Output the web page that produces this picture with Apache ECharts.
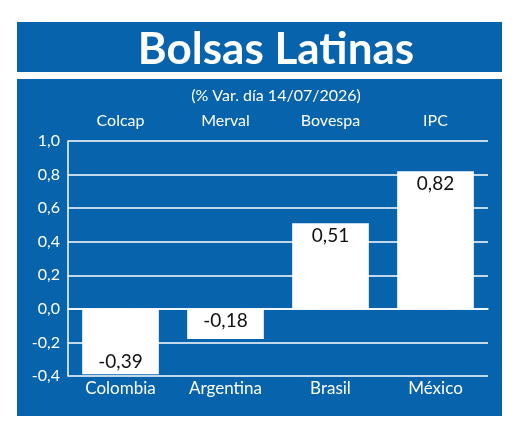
<!DOCTYPE html>
<html>
<head>
<meta charset="utf-8">
<script src="https://cdn.jsdelivr.net/npm/echarts@6/dist/echarts.min.js"></script>
<style>
  html, body { margin: 0; padding: 0; background: #fff; }
  #chart { width: 520px; height: 431px; }
</style>
</head>
<body>
<div id="chart"></div>
<script>
var countries = ['Colombia', 'Argentina', 'Brasil', 'México'];
var indices = ['Colcap', 'Merval', 'Bovespa', 'IPC'];
var changes = [-0.39, -0.18, 0.51, 0.82];
var labelPos = ['insideBottom', 'insideTop', 'insideTop', 'insideTop'];

var blue = '#0763ac';
var font = 'Lato';

function comma(v, d) {
    return v.toFixed(d).replace('.', ',');
}

var chart = echarts.init(document.getElementById('chart'));

var option = {
    backgroundColor: '#fff',
    textStyle: { fontFamily: font },
    graphic: [
        { type: 'rect', z: -10, shape: { x: 17, y: 22, width: 485, height: 50 }, style: { fill: blue } },
        { type: 'rect', z: -10, shape: { x: 17, y: 79, width: 485, height: 337 }, style: { fill: blue } }
    ],
    title: [
        {
            text: 'Bolsas Latinas',
            left: 271, top: 23, textAlign: 'center',
            textStyle: { color: '#fff', fontSize: 44, fontWeight: 'bold', fontFamily: font }
        },
        {
            text: '(% Var. día 14/07/2026)',
            left: 271, top: 83, textAlign: 'center',
            textStyle: { color: '#fff', fontSize: 16, fontWeight: 'normal', fontFamily: font }
        }
    ],
    grid: { left: 68, right: 32, top: 141, bottom: 55 },
    xAxis: [
        {
            type: 'category', data: countries, position: 'bottom',
            axisLine: { show: false, onZero: false }, axisTick: { show: false },
            axisLabel: { color: '#fff', fontSize: 17, margin: 4 }
        },
        {
            type: 'category', data: countries,
            axisLine: { onZero: true, lineStyle: { color: '#fff', width: 1.5 } },
            axisTick: { inside: true, length: 5, lineStyle: { color: '#fff', width: 1.5 } },
            axisLabel: { show: false }
        },
        {
            type: 'category', data: indices, position: 'top',
            axisLine: { show: false }, axisTick: { show: false },
            axisLabel: { color: '#fff', fontSize: 16, margin: 12 }
        }
    ],
    yAxis: {
        type: 'value', min: -0.4, max: 1.0, interval: 0.2,
        axisLine: { show: true, lineStyle: { color: '#fff', width: 1.5 } },
        axisTick: { show: false },
        axisLabel: { color: '#fff', fontSize: 16, margin: 8, formatter: function (v) { return comma(v, 1); } },
        splitLine: { lineStyle: { color: '#fff', width: 1.5 } }
    },
    series: [{
        type: 'bar',
        xAxisIndex: 0,
        barWidth: '73%',
        itemStyle: { color: '#fff' },
        data: changes.map(function (v, i) {
            return { value: v, label: { position: labelPos[i] } };
        }),
        label: {
            show: true, color: '#111', fontSize: 19, distance: 3,
            formatter: function (p) { return comma(p.value, 2); }
        }
    }]
};

chart.setOption(option);
</script>
</body>
</html>
